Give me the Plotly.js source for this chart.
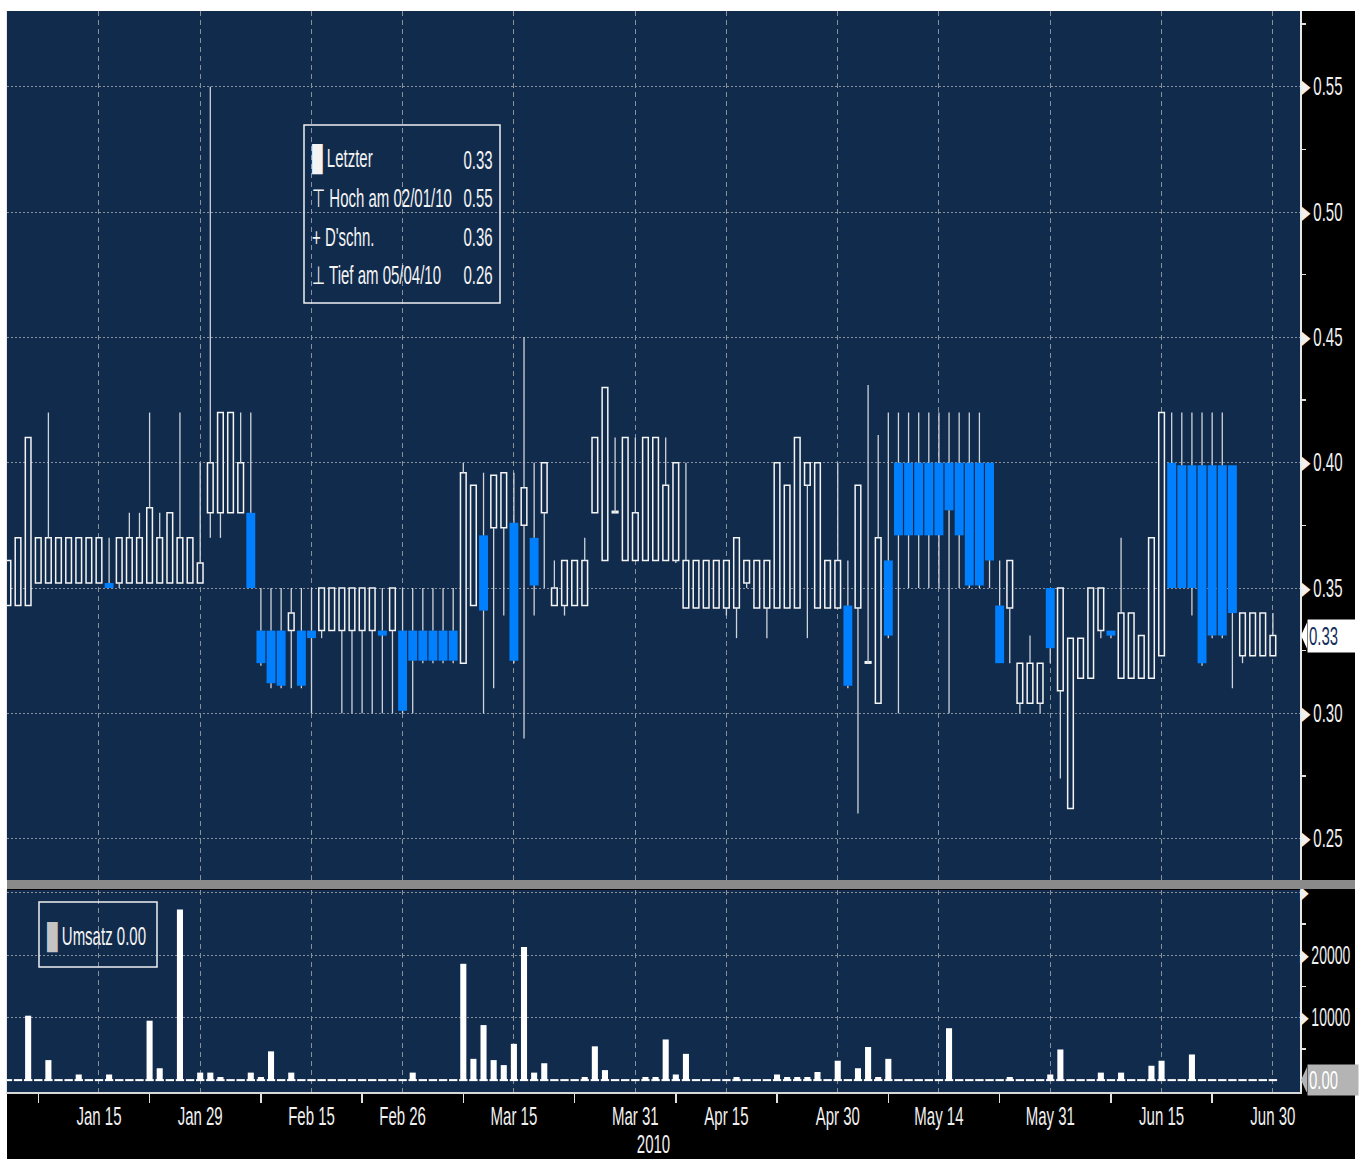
<!DOCTYPE html>
<html><head><meta charset="utf-8">
<script src="https://cdn.plot.ly/plotly-3.0.1.min.js"></script>
<style>html,body{margin:0;padding:0;background:#fff}#chart{width:1365px;height:1159px}</style>
</head><body><div id="chart"></div><script>
// ---- data ----
const dates = [
'2010-01-04','2010-01-05','2010-01-06','2010-01-07','2010-01-08','2010-01-11','2010-01-12','2010-01-13','2010-01-14','2010-01-15',
'2010-01-18','2010-01-19','2010-01-20','2010-01-21','2010-01-22','2010-01-25','2010-01-26','2010-01-27','2010-01-28','2010-01-29',
'2010-02-01','2010-02-02','2010-02-03','2010-02-04','2010-02-05','2010-02-08','2010-02-09','2010-02-10','2010-02-11','2010-02-12',
'2010-02-15','2010-02-16','2010-02-17','2010-02-18','2010-02-19','2010-02-22','2010-02-23','2010-02-24','2010-02-25','2010-02-26',
'2010-03-01','2010-03-02','2010-03-03','2010-03-04','2010-03-05','2010-03-08','2010-03-09','2010-03-10','2010-03-11','2010-03-12',
'2010-03-15','2010-03-16','2010-03-17','2010-03-18','2010-03-19','2010-03-22','2010-03-23','2010-03-24','2010-03-25','2010-03-26',
'2010-03-29','2010-03-30','2010-03-31','2010-04-01','2010-04-06','2010-04-07','2010-04-08','2010-04-09','2010-04-12','2010-04-13',
'2010-04-14','2010-04-15','2010-04-16','2010-04-19','2010-04-20','2010-04-21','2010-04-22','2010-04-23','2010-04-26','2010-04-27',
'2010-04-28','2010-04-29','2010-04-30','2010-05-03','2010-05-04','2010-05-05','2010-05-06','2010-05-07','2010-05-10','2010-05-11',
'2010-05-12','2010-05-13','2010-05-14','2010-05-17','2010-05-18','2010-05-19','2010-05-20','2010-05-21','2010-05-24','2010-05-25',
'2010-05-26','2010-05-27','2010-05-28','2010-05-31','2010-06-01','2010-06-02','2010-06-03','2010-06-04','2010-06-07','2010-06-08',
'2010-06-09','2010-06-10','2010-06-11','2010-06-14','2010-06-15','2010-06-16','2010-06-17','2010-06-18','2010-06-21','2010-06-22',
'2010-06-23','2010-06-24','2010-06-25','2010-06-28','2010-06-29','2010-06-30'];

const open = [
.343,.343,.343,.352,.352,.352,.352,.352,.352,.352,
.352,.352,.352,.352,.352,.352,.352,.352,.352,.352,
.38,.38,.38,.38,.38,.333,.333,.333,.333,.333,
.333,.333,.333,.333,.333,.333,.333,.333,.333,.333,
.333,.333,.333,.333,.333,.32,.343,.371,.374,.374,
.376,.375,.37,.38,.343,.343,.343,.343,.38,.361,
.38,.361,.361,.361,.361,.361,.361,.342,.342,.342,
.342,.342,.342,.352,.342,.342,.342,.342,.342,.391,
.342,.342,.342,.343,.342,.32,.304,.361,.40,.40,
.40,.40,.40,.40,.40,.40,.40,.40,.343,.342,
.304,.304,.304,.35,.309,.262,.314,.314,.333,.333,
.314,.314,.314,.314,.323,.40,.399,.399,.399,.399,
.399,.399,.323,.323,.323,.323];

const high = [
.361,.37,.41,.37,.42,.37,.37,.37,.37,.37,
.37,.37,.38,.38,.42,.38,.38,.42,.37,.40,
.55,.42,.42,.42,.42,.35,.35,.35,.35,.35,
.35,.35,.35,.35,.35,.35,.35,.35,.35,.35,
.35,.35,.35,.35,.35,.40,.391,.396,.395,.396,
.396,.45,.40,.40,.361,.361,.361,.37,.41,.43,
.41,.41,.41,.41,.41,.41,.40,.40,.361,.361,
.361,.361,.37,.361,.361,.361,.40,.391,.41,.40,
.40,.361,.40,.361,.391,.431,.411,.42,.42,.42,
.42,.42,.42,.42,.42,.42,.42,.40,.361,.361,
.32,.331,.32,.35,.35,.33,.33,.35,.35,.333,
.37,.34,.331,.37,.42,.42,.42,.42,.42,.42,
.42,.399,.34,.34,.34,.34];

const low = [
.343,.343,.343,.352,.352,.352,.352,.352,.352,.352,
.35,.35,.352,.352,.352,.352,.352,.352,.352,.352,
.37,.37,.38,.38,.35,.319,.31,.31,.31,.31,
.30,.33,.333,.30,.30,.30,.30,.30,.30,.30,
.30,.32,.32,.32,.32,.32,.343,.30,.31,.339,
.32,.29,.339,.35,.343,.339,.343,.343,.38,.361,
.38,.361,.361,.361,.361,.361,.36,.342,.342,.342,
.342,.339,.33,.35,.342,.33,.342,.342,.342,.33,
.342,.342,.342,.31,.26,.32,.304,.33,.30,.35,
.35,.35,.35,.30,.35,.35,.35,.35,.32,.32,
.30,.304,.30,.32,.274,.262,.314,.314,.33,.33,
.314,.314,.314,.314,.323,.35,.35,.339,.319,.33,
.33,.31,.32,.323,.323,.323];

const close = [
.361,.37,.41,.37,.37,.37,.37,.37,.37,.37,
.35,.37,.37,.37,.382,.37,.38,.37,.37,.36,
.40,.42,.42,.40,.35,.32,.312,.311,.34,.311,
.330,.35,.35,.35,.35,.35,.35,.331,.35,.301,
.321,.321,.321,.321,.321,.396,.391,.341,.395,.396,
.321,.39,.351,.40,.35,.361,.361,.361,.41,.43,
.38,.41,.38,.41,.41,.391,.40,.361,.361,.361,
.361,.361,.37,.361,.361,.361,.40,.391,.41,.40,
.40,.361,.361,.311,.391,.32,.37,.331,.371,.371,
.371,.371,.371,.381,.371,.351,.351,.361,.32,.361,
.32,.32,.32,.326,.35,.33,.33,.35,.35,.331,
.34,.34,.331,.37,.42,.35,.35,.35,.32,.331,
.331,.34,.34,.34,.34,.331];

const volume = [
0,0,10300,0,3200,0,0,900,0,0,
900,0,0,0,9500,1900,0,27300,0,1200,
1200,500,0,0,1200,500,4600,0,1200,0,
0,0,0,0,0,0,0,0,0,0,
1200,0,0,0,0,18600,3400,8800,3200,2400,
5800,21300,1200,2700,0,0,0,500,5400,1600,
0,0,0,500,500,6500,900,4200,0,0,
0,0,500,0,0,0,900,500,500,500,
1300,0,3100,0,1900,5300,500,3400,0,0,
0,0,0,8300,0,0,0,0,0,500,
0,0,0,900,4900,0,0,0,1200,0,
1200,0,0,2300,3100,0,0,4100,0,0,
0,0,0,0,0,0];

const xTickDates  = ['2010-01-15','2010-01-29','2010-02-15','2010-02-26','2010-03-15','2010-03-31','2010-04-15','2010-04-30','2010-05-14','2010-05-31','2010-06-15','2010-06-30'];
const xTickLabels = ['Jan 15','Jan 29','Feb 15','Feb 26','Mar 15','Mar 31','Apr 15','Apr 30','May 14','May 31','Jun 15','Jun 30'];
const xMinorDates = ['2010-01-07','2010-01-22','2010-02-08','2010-02-22','2010-03-08','2010-03-23','2010-04-08','2010-04-22','2010-05-07','2010-05-24','2010-06-08','2010-06-22'];
const priceTicks  = [0.25,0.30,0.35,0.40,0.45,0.50,0.55];
const priceMinor  = [0.275,0.325,0.375,0.425,0.475,0.525,0.575];
const volTicks    = [10000,20000,30000];
const volTickText = ['10000','20000',''];
const volMinor    = [5000,15000,25000];
const legendLabels = ['Letzter','Hoch am 02/01/10',"D'schn.",'Tief am 05/04/10'];
const legendIcons  = ['\u2588','\u22A4','+','\u22A5'];
const legendValues = ['0.33','0.55','0.36','0.26'];
const volLegendText = 'Umsatz 0.00';
const volLastText = '0.00';

// ---- styling ----
const NAVY = '#112b4d', BLUE = '#0080ff', GRID = '#8a9099';
const FONT = "'Liberation Sans',Arial,sans-serif";
const FS = 25, SQUEEZE = 0.6;
const W = 1365, H = 1159, ML = 7, MR = 65, MT = 11, MB = 67;
const PW = W - ML - MR, PH = H - MT - MB;
const px = x => (x - ML) / PW;
const py = y => (H - MB - y) / PH;

const idx = dates.map((d, i) => i);
const upX = [], upBase = [], upLen = [], dnX = [], dnBase = [], dnLen = [];
const wx = [], wy = [];
idx.forEach(i => {
  const o = open[i], c = close[i], hi = high[i], lo = low[i];
  const top = Math.max(o, c), bot = Math.min(o, c);
  if (c >= o) { upX.push(i); upBase.push(bot); upLen.push(Math.max(top - bot, 0.0006)); }
  else { dnX.push(i); dnBase.push(bot); dnLen.push(top - bot); }
  if (hi > top) { wx.push(i, i, null); wy.push(top, hi, null); }
  if (lo < bot) { wx.push(i, i, null); wy.push(lo, bot, null); }
});

const traces = [
  {type:'scatter', mode:'lines', x:wx, y:wy, xaxis:'x', yaxis:'y',
   line:{color:'#cfd3da', width:1.3}, hoverinfo:'skip', connectgaps:false},
  {type:'bar', x:upX, base:upBase, y:upLen, width:0.56, xaxis:'x', yaxis:'y',
   marker:{color:NAVY, line:{color:'#f4f4f4', width:1.5}}},
  {type:'bar', x:dnX, base:dnBase, y:dnLen, width:0.88, xaxis:'x', yaxis:'y',
   marker:{color:BLUE, line:{width:0}}},
  {type:'bar', x:idx, y:volume, width:0.6, xaxis:'x', yaxis:'y2',
   marker:{color:'#ffffff', line:{width:0}}},
  {type:'scatter', mode:'markers', x:idx, y:idx.map(() => 0), xaxis:'x', yaxis:'y2',
   marker:{symbol:'line-ew', size:6, color:'#ffffff', line:{color:'#ffffff', width:2}}, hoverinfo:'skip'}
];

const lastClose = close[close.length - 1];
const yPerPx = (0.5802 - 0.2335) / (PH * (1 - 0.19611));
const vPerPx = (30400 + 1900) / (PH * 0.18686);

const shapes = [
  {type:'rect', xref:'paper', yref:'paper', x0:px(0), x1:px(W), y0:py(MT), y1:py(0), fillcolor:'#ffffff', line:{width:0}, layer:'below'},
  {type:'rect', xref:'paper', yref:'paper', x0:px(0), x1:px(ML), y0:py(H), y1:py(0), fillcolor:'#ffffff', line:{width:0}, layer:'below'},
  {type:'rect', xref:'paper', yref:'paper', x0:px(1355), x1:px(W), y0:py(H), y1:py(0), fillcolor:'#ffffff', line:{width:0}, layer:'below'},
  {type:'rect', xref:'paper', yref:'paper', x0:px(ML), x1:px(1355), y0:py(889), y1:py(880), fillcolor:'#8a8a8a', line:{width:0}},
  {type:'rect', xref:'paper', yref:'paper', x0:px(304), x1:px(500), y0:py(303), y1:py(125), line:{color:'#f0f0f0', width:1.5}},
  {type:'rect', xref:'paper', yref:'paper', x0:px(39), x1:px(157), y0:py(967), y1:py(902), line:{color:'#f0f0f0', width:1.5}},
  {type:'path', xref:'paper', yref:'y',
   path:`M ${px(1301)} ${lastClose} L ${px(1307)} ${lastClose + 13*yPerPx} L ${px(1307)} ${lastClose - 13*yPerPx} Z`,
   fillcolor:'#ffffff', line:{width:0}},
  {type:'path', xref:'paper', yref:'y2',
   path:`M ${px(1301)} 0 L ${px(1307)} ${13*vPerPx} L ${px(1307)} ${-13*vPerPx} Z`,
   fillcolor:'#b4b4b4', line:{width:0}}
];

const rowY = [160, 198, 237, 275];
const annotations = [];
const txt = {family:FONT, size:FS, color:'#f4f4f4'};
legendLabels.forEach((t, k) => {
  annotations.push({xref:'paper', yref:'paper', x:px(310), y:py(rowY[k]), xanchor:'left', yanchor:'middle',
    text: legendIcons[k] + ' ' + t, showarrow:false, font:txt});
  annotations.push({xref:'paper', yref:'paper', x:px(495), y:py(rowY[k]), xanchor:'right', yanchor:'middle',
    text: legendValues[k], showarrow:false, font:txt});
});
annotations.push({xref:'paper', yref:'paper', x:px(45), y:py(937), xanchor:'left', yanchor:'middle',
  text:'<span style="color:#c4c4c4">\u2588</span> ' + volLegendText, showarrow:false, font:txt});
annotations.push({xref:'paper', yref:'y', x:px(1307), y:lastClose, xanchor:'left', yanchor:'middle',
  text: lastClose.toFixed(2), showarrow:false, bgcolor:'#ffffff', width:48, height:30, align:'left',
  font:{family:FONT, size:FS, color:'#12305a'}});
annotations.push({xref:'paper', yref:'y2', x:px(1307), y:0, xanchor:'left', yanchor:'middle',
  text: volLastText, showarrow:false, bgcolor:'#b4b4b4', width:48, height:28, align:'left',
  font:{family:FONT, size:FS, color:'#ffffff'}});

const tickFont = {family:FONT, size:FS, color:'#f0f0f0'};
const layout = {
  width:W, height:H, margin:{l:ML, r:MR, t:MT, b:MB, pad:0},
  paper_bgcolor:'#000000', plot_bgcolor:NAVY, showlegend:false, barmode:'overlay',
  font:{family:FONT, color:'#f0f0f0', size:FS},
  xaxis:{type:'linear', range:[-0.09, 127.68], anchor:'y2', fixedrange:true,
    tickmode:'array', tickvals:xTickDates.map(d => dates.indexOf(d)), ticktext:xTickLabels,
    ticks:'', tickfont:tickFont, ticklabelstandoff:2,
    showgrid:true, gridcolor:GRID, gridwidth:1, griddash:'5px,4px', zeroline:false,
    showline:true, linecolor:'#d8d8d8', linewidth:1.5,
    minor:{tickmode:'array', tickvals:xMinorDates.map(d => dates.indexOf(d)), ticks:'outside', ticklen:9, tickwidth:1.5, tickcolor:'#e0e0e0', showgrid:false},
    title:{text:'2010', font:{family:FONT, size:FS, color:'#f0f0f0'}, standoff:4}},
  yaxis:{domain:[0.19611, 1], side:'right', range:[0.2335, 0.5802], fixedrange:true,
    tickmode:'array', tickvals:priceTicks, ticktext:priceTicks.map(v => '\u25BA' + v.toFixed(2)),
    ticks:'', tickfont:tickFont, ticklabelstandoff:0,
    showgrid:true, gridcolor:GRID, gridwidth:1, griddash:'2px,2px', zeroline:false,
    showline:true, linecolor:'#e8e8e8', linewidth:1.5, mirror:true,
    minor:{tickmode:'array', tickvals:priceMinor, ticks:'outside', ticklen:4, tickwidth:1.5, tickcolor:'#e0e0e0', showgrid:false}},
  yaxis2:{domain:[0, 0.18686], side:'right', range:[-1900, 30400], fixedrange:true,
    tickmode:'array', tickvals:volTicks, ticktext:volTickText.map(t => '\u25BA' + t),
    ticks:'', tickfont:tickFont, ticklabelstandoff:0,
    showgrid:true, gridcolor:GRID, gridwidth:1, griddash:'2px,2px', zeroline:false,
    showline:true, linecolor:'#e8e8e8', linewidth:1.5, mirror:true,
    minor:{tickmode:'array', tickvals:volMinor, ticks:'outside', ticklen:4, tickwidth:1.5, tickcolor:'#e0e0e0', showgrid:false}},
  shapes:shapes, annotations:annotations
};

// narrow the text horizontally (Bloomberg-style condensed lettering), keeping it real text
function condense(gd) {
  const squeeze = (t, mode, dx, s) => {
    const bb = t.getBBox();
    const ax = mode === 'middle' ? bb.x + bb.width / 2 : mode === 'end' ? bb.x + bb.width : bb.x;
    const tr = t.getAttribute('transform') || '';
    t.setAttribute('transform', `${tr} translate(${ax + (dx || 0)},0) scale(${s || SQUEEZE},1) translate(${-ax},0)`);
  };
  gd.querySelectorAll('g.xtick text').forEach(t => squeeze(t, 'middle'));
  gd.querySelectorAll('g.ytick text').forEach(t => squeeze(t, 'start', -8));
  gd.querySelectorAll('g.y2tick text').forEach(t => squeeze(t, 'start', -9, 0.56));
  gd.querySelectorAll('text.xtitle').forEach(t => squeeze(t, 'middle'));
  gd.querySelectorAll('g.annotation').forEach(g => {
    const k = +g.getAttribute('data-index');
    const a = layout.annotations[k] || {};
    const mode = a.xanchor === 'right' ? 'end' : a.xanchor === 'left' ? 'start' : 'middle';
    g.querySelectorAll('text.annotation-text').forEach(t => squeeze(t, mode));
  });
}
Plotly.newPlot('chart', traces, layout, {staticPlot:true, displayModeBar:false}).then(condense);
</script></body></html>
